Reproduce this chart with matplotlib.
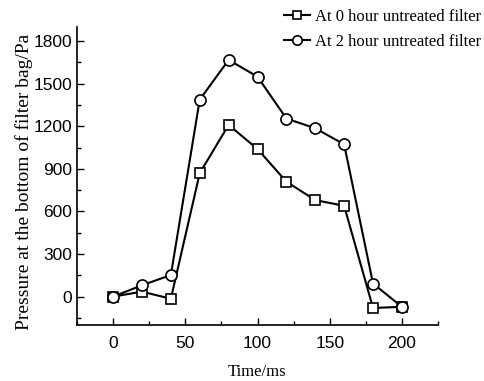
import matplotlib
matplotlib.use("Agg")
import matplotlib.pyplot as plt
from matplotlib.ticker import MultipleLocator

time_ms = [0, 20, 40, 60, 80, 100, 120, 140, 160, 180, 200]
p_0h = [0, 35, -15, 870, 1210, 1040, 810, 680, 640, -80, -72]
p_2h = [0, 80, 152, 1388, 1668, 1550, 1255, 1186, 1073, 92, -72]
label_0h = "At 0 hour untreated filter"
label_2h = "At 2 hour untreated filter"

fig = plt.figure(figsize=(4.84, 3.81), dpi=100)
ax = fig.add_axes([77/484, 1-325/381, (438-77)/484, (325-27)/381])

ax.plot(time_ms, p_0h, color="black", lw=1.5, marker="s", ms=7.5,
        mfc="white", mec="black", mew=1.2, label=label_0h)
ax.plot(time_ms, p_2h, color="black", lw=1.5, marker="o", ms=8,
        mfc="white", mec="black", mew=1.2, label=label_2h)

ax.set_xlim(-25, 225)
ax.set_ylim(-200, 1900)
ax.xaxis.set_major_locator(MultipleLocator(50))
ax.xaxis.set_minor_locator(MultipleLocator(25))
ax.yaxis.set_major_locator(MultipleLocator(300))
ax.yaxis.set_minor_locator(MultipleLocator(150))
ax.set_yticks(range(0, 1801, 300))
ax.tick_params(which="major", direction="in", length=5, width=1, labelsize=12.5)
ax.tick_params(which="minor", direction="in", length=3, width=1)
ax.tick_params(axis="x", pad=8)
for lab in ax.get_xticklabels() + ax.get_yticklabels():
    lab.set_fontfamily("Liberation Sans")

for s in ["top", "right"]:
    ax.spines[s].set_visible(False)
for s in ["left", "bottom"]:
    ax.spines[s].set_linewidth(1.2)

ax.set_xlabel("Time/ms", fontfamily="Liberation Serif", fontsize=12, labelpad=9)
ax.set_ylabel("Pressure at the bottom of filter bag/Pa", fontfamily="Liberation Serif",
              fontsize=14)
ax.yaxis.set_label_coords(-0.122, 0.48)

leg = fig.legend(loc="upper right", bbox_to_anchor=(1.0, 0.985), frameon=False,
                 prop={"family": "Liberation Serif", "size": 12},
                 handlelength=1.6, handletextpad=0.25, labelspacing=0.55,
                 borderaxespad=0.1, borderpad=0.1, markerscale=0.85)

fig.savefig("out.png", dpi=100)
